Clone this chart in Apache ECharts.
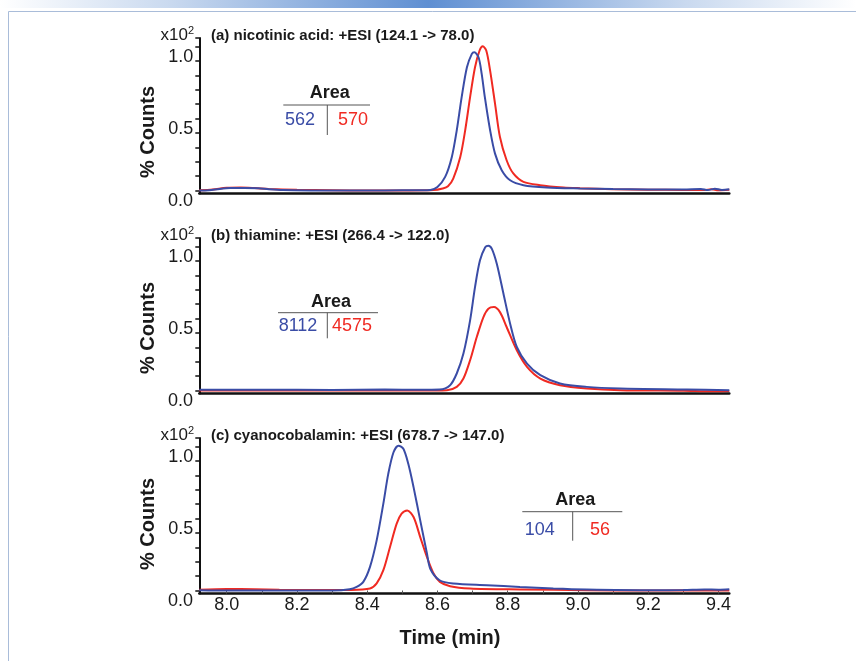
<!DOCTYPE html>
<html><head><meta charset="utf-8">
<script src="https://cdn.jsdelivr.net/npm/echarts@6/dist/echarts.min.js"></script>
<style>html,body{margin:0;padding:0;background:#fff}#c{width:856px;height:661px}</style>
</head><body><div id="c"></div><script>
// ---- data (time in min, counts in x10^2 %) ----
const panelTitles = ['(a) nicotinic acid: +ESI (124.1 -> 78.0)', '(b) thiamine: +ESI (266.4 -> 122.0)', '(c) cyanocobalamin: +ESI (678.7 -> 147.0)'];
const areaBlue = ['562', '8112', '104'];
const areaRed = ['570', '4575', '56'];
const xTickLabels = [8.0, 8.2, 8.4, 8.6, 8.8, 9.0, 9.2, 9.4];
const xMinorTicks = [8.0, 8.1, 8.2, 8.3, 8.4, 8.5, 8.6, 8.7, 8.8, 8.9, 9.0, 9.1, 9.2, 9.3, 9.4];
const yTickLabels = [0.5, 1.0];
const yMinorTicks = [0.1, 0.2, 0.3, 0.4, 0.5, 0.6, 0.7, 0.8, 0.9, 1.0, 1.1, 1.16];

const timeABlue = [7.922,7.950,7.980,8.010,8.050,8.090,8.120,8.160,8.250,8.350,8.450,8.550,8.580,8.600,8.622,8.641,8.655,8.669,8.684,8.698,8.705,8.717,8.726,8.735,8.750,8.764,8.783,8.807,8.845,8.911,9.006,9.100,9.200,9.300,9.350,9.370,9.390,9.410,9.431];
const countsABlue = [0.100,0.103,0.112,0.118,0.119,0.117,0.110,0.104,0.101,0.100,0.101,0.103,0.105,0.125,0.195,0.334,0.519,0.749,0.957,1.050,1.061,1.026,0.911,0.749,0.519,0.357,0.242,0.172,0.138,0.122,0.115,0.111,0.108,0.107,0.112,0.104,0.113,0.105,0.110];
const timeARed = [7.922,7.960,8.000,8.040,8.080,8.120,8.200,8.300,8.400,8.500,8.589,8.615,8.630,8.645,8.665,8.679,8.693,8.707,8.720,8.729,8.739,8.750,8.764,8.778,8.797,8.816,8.845,8.892,8.959,9.006,9.100,9.200,9.300,9.360,9.380,9.400,9.431];
const countsARed = [0.102,0.108,0.120,0.122,0.118,0.112,0.106,0.102,0.100,0.101,0.104,0.115,0.130,0.184,0.334,0.519,0.749,0.957,1.073,1.102,1.073,0.934,0.704,0.472,0.311,0.219,0.161,0.138,0.122,0.117,0.110,0.106,0.105,0.104,0.110,0.103,0.106];

const timeBBlue = [7.922,8.100,8.300,8.450,8.550,8.606,8.636,8.655,8.674,8.693,8.707,8.721,8.736,8.745,8.755,8.769,8.788,8.807,8.826,8.855,8.893,8.949,9.025,9.120,9.310,9.431];
const countsBBlue = [0.106,0.106,0.105,0.107,0.106,0.108,0.138,0.219,0.357,0.588,0.819,1.003,1.096,1.107,1.085,0.981,0.773,0.565,0.403,0.288,0.207,0.150,0.126,0.115,0.108,0.103];
const timeBRed = [7.922,8.200,8.300,8.400,8.550,8.627,8.655,8.674,8.693,8.712,8.731,8.745,8.761,8.778,8.797,8.826,8.855,8.893,8.949,9.025,9.120,9.300,9.380,9.431];
const countsBRed = [0.100,0.100,0.102,0.101,0.100,0.103,0.126,0.184,0.311,0.472,0.611,0.669,0.680,0.645,0.542,0.380,0.265,0.184,0.138,0.115,0.103,0.099,0.095,0.098];

const timeCBlue = [7.922,8.000,8.100,8.200,8.300,8.350,8.370,8.389,8.408,8.427,8.446,8.460,8.475,8.489,8.503,8.517,8.532,8.551,8.570,8.580,8.606,8.645,8.741,8.835,8.930,9.025,9.214,9.300,9.360,9.400,9.431];
const countsCBlue = [0.103,0.100,0.101,0.100,0.101,0.110,0.126,0.161,0.265,0.449,0.704,0.911,1.061,1.107,1.085,0.981,0.819,0.588,0.360,0.250,0.172,0.150,0.138,0.126,0.115,0.108,0.103,0.104,0.108,0.106,0.109];
const timeCRed = [7.922,8.000,8.080,8.150,8.250,8.350,8.408,8.427,8.446,8.465,8.484,8.498,8.514,8.532,8.551,8.570,8.589,8.607,8.636,8.693,8.835,9.025,9.200,9.300,9.431];
const countsCRed = [0.106,0.112,0.110,0.106,0.104,0.105,0.115,0.150,0.242,0.403,0.565,0.634,0.657,0.611,0.472,0.334,0.219,0.161,0.131,0.115,0.108,0.103,0.100,0.102,0.100];

const blueTimes = [timeABlue, timeBBlue, timeCBlue];
const blueCounts = [countsABlue, countsBBlue, countsCBlue];
const redTimes = [timeARed, timeBRed, timeCRed];
const redCounts = [countsARed, countsBRed, countsCRed];

// ---- styling ----
const FONT = '"Liberation Sans", Arial, sans-serif';
const BLUE = '#3a4ca6';
const RED = '#f02a22';
const TEXTC = '#1a1a1a';
const GRID_LEFT = 199.3, GRID_W = 530, GRID_TOP = 38, GRID_H = 155.5, STEP = 200;

const zip = (t, v) => t.map((x, i) => [x, v[i]]);

const grids = [], xAxes = [], yAxes = [], series = [], graphics = [];
for (let i = 0; i < 3; i++) {
  const top = GRID_TOP + STEP * i;
  grids.push({left: GRID_LEFT, width: GRID_W, top: top, height: GRID_H});
  xAxes.push({
    type: 'value', gridIndex: i, min: 7.922, max: 9.431,
    axisLine: {onZero: false, lineStyle: {color: '#111', width: 2.5}},
    splitLine: {show: false},
    axisTick: {show: i === 2, inside: true, length: 3, customValues: xMinorTicks, lineStyle: {color: '#555', width: 1}},
    axisLabel: {show: i === 2, customValues: xTickLabels, formatter: v => v.toFixed(1), fontSize: 18, color: TEXTC, fontFamily: FONT, margin: 3}
  });
  yAxes.push({
    type: 'value', gridIndex: i, min: 0.08, max: 1.16,
    axisLine: {show: true, onZero: false, lineStyle: {color: '#111', width: 2}},
    splitLine: {show: false},
    axisTick: {show: true, length: 4, customValues: yMinorTicks, lineStyle: {color: '#111', width: 1.5}},
    axisLabel: {customValues: yTickLabels, formatter: v => v.toFixed(1), fontSize: 18, color: TEXTC, fontFamily: FONT, margin: 6, verticalAlign: 'bottom', lineHeight: 8}
  });
  series.push({
    type: 'line', xAxisIndex: i, yAxisIndex: i, showSymbol: false, smooth: 0.3,
    lineStyle: {color: RED, width: 2}, itemStyle: {color: RED},
    data: zip(redTimes[i], redCounts[i]), z: 2
  });
  series.push({
    type: 'line', xAxisIndex: i, yAxisIndex: i, showSymbol: false, smooth: 0.3,
    lineStyle: {color: BLUE, width: 2}, itemStyle: {color: BLUE},
    data: zip(blueTimes[i], blueCounts[i]), z: 3
  });
  // panel title
  graphics.push({type: 'text', left: 211, top: top - 10, style: {text: panelTitles[i], font: 'bold 15px ' + FONT, fill: TEXTC, textVerticalAlign: 'middle'}});
  // x10^2
  graphics.push({type: 'text', x: 194, y: top - 3, style: {
    text: 'x10{s|2}', align: 'right', verticalAlign: 'middle', font: '17px ' + FONT, fill: TEXTC,
    rich: {s: {fontSize: 11, fontFamily: FONT, verticalAlign: 'top', padding: [0, 0, 8, 0]}}
  }});
  // 0.0 label
  graphics.push({type: 'text', x: 193, y: top + GRID_H + 12, style: {text: '0.0', align: 'right', verticalAlign: 'bottom', font: '18px ' + FONT, fill: TEXTC, lineHeight: 8}});
  // % Counts
  graphics.push({type: 'text', x: 148, y: 132 + 196 * i, rotation: Math.PI / 2, style: {text: '% Counts', align: 'center', verticalAlign: 'middle', font: 'bold 20px ' + FONT, fill: TEXTC}});
}

// area tables
const tables = [
  {cx: 327.3, areaY: 93.3, lineY: 105, vEnd: 135, x1: 283.3, x2: 370, bx: 300, rx: 353, ny: 120},
  {cx: 327.3, areaY: 302.5, lineY: 312.7, vEnd: 338.3, x1: 278, x2: 378, bx: 298, rx: 352, ny: 326},
  {cx: 572.7, areaY: 500, lineY: 511.7, vEnd: 540.7, x1: 522.3, x2: 622.3, bx: 539.7, rx: 600, ny: 530}
];
tables.forEach((t, i) => {
  graphics.push({type: 'text', x: (t.x1 + t.x2) / 2 + 3, y: t.areaY, style: {text: 'Area', align: 'center', verticalAlign: 'middle', font: 'bold 18px ' + FONT, fill: TEXTC}});
  graphics.push({type: 'line', shape: {x1: t.x1, y1: t.lineY, x2: t.x2, y2: t.lineY}, style: {stroke: '#555', lineWidth: 1}});
  graphics.push({type: 'line', shape: {x1: t.cx, y1: t.lineY, x2: t.cx, y2: t.vEnd}, style: {stroke: '#555', lineWidth: 1}});
  graphics.push({type: 'text', x: t.bx, y: t.ny, style: {text: areaBlue[i], align: 'center', verticalAlign: 'middle', font: '18px ' + FONT, fill: BLUE}});
  graphics.push({type: 'text', x: t.rx, y: t.ny, style: {text: areaRed[i], align: 'center', verticalAlign: 'middle', font: '18px ' + FONT, fill: RED}});
});

// x axis title
graphics.push({type: 'text', x: 450, y: 638, style: {text: 'Time (min)', align: 'center', verticalAlign: 'middle', font: 'bold 20px ' + FONT, fill: TEXTC}});

// page decoration: banner and frame
graphics.push({type: 'rect', shape: {x: 0, y: 0, width: 856, height: 8}, z: -1, style: {
  fill: new echarts.graphic.LinearGradient(0, 0, 1, 0, [
    {offset: 0, color: '#ffffff'}, {offset: 0.2, color: '#c9d9ef'}, {offset: 0.5, color: '#5f8fd2'},
    {offset: 0.8, color: '#c9d9ef'}, {offset: 1, color: '#ffffff'}])
}});
graphics.push({type: 'line', shape: {x1: 8.5, y1: 11.5, x2: 856, y2: 11.5}, style: {stroke: '#a9bcd9', lineWidth: 1}});
graphics.push({type: 'line', shape: {x1: 8.5, y1: 11.5, x2: 8.5, y2: 661}, style: {stroke: '#a9bcd9', lineWidth: 1}});

const chart = echarts.init(document.getElementById('c'), null, {renderer: 'canvas'});
chart.setOption({
  animation: false,
  backgroundColor: '#ffffff',
  grid: grids, xAxis: xAxes, yAxis: yAxes, series: series,
  graphic: graphics
});
</script></body></html>
